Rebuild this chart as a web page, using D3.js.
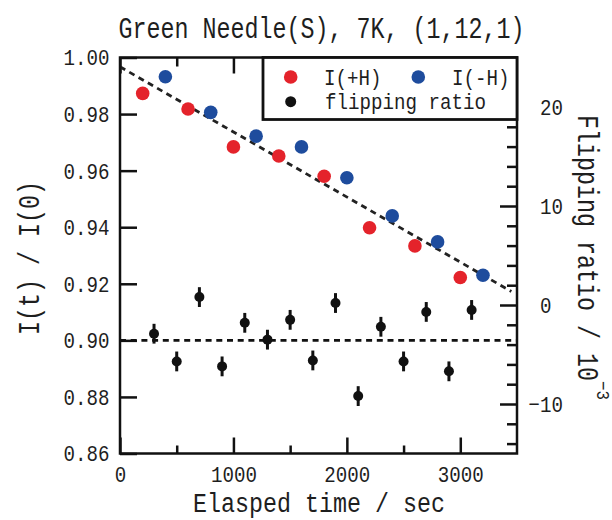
<!DOCTYPE html>
<html>
<head>
<meta charset="utf-8">
<script src="https://cdn.jsdelivr.net/npm/d3@7"></script>
<style>
  html, body { margin: 0; padding: 0; background: #fff; }
  svg { display: block; }
  text { font-family: "Liberation Mono", "DejaVu Sans Mono", monospace; fill: #1e1e1e; }
</style>
</head>
<body>
<svg id="chart" width="612" height="520"></svg>
<script>
// Intensity I(t)/I(0) for +H and -H fields
const timePlus = [200, 600, 1000, 1400, 1800, 2200, 2600, 3000];
const intensityPlus = [0.9873, 0.9818, 0.9684, 0.9652, 0.9580, 0.9398, 0.9334, 0.9222];
const timeMinus = [400, 800, 1200, 1600, 2000, 2400, 2800, 3200];
const intensityMinus = [0.9932, 0.9806, 0.9722, 0.9684, 0.9575, 0.9440, 0.9348, 0.9230];

// Flipping ratio (x 10^-3) with error bars
const timeFlip = [300, 500, 700, 900, 1100, 1300, 1500, 1700, 1900, 2100, 2300, 2500, 2700, 2900, 3100];
const flipRatio = [-2.9, -5.7, 0.8, -6.2, -1.8, -3.5, -1.5, -5.6, 0.2, -9.2, -2.2, -5.7, -0.7, -6.7, -0.5];
const flipError = [1.0, 1.0, 1.0, 1.0, 1.0, 1.0, 1.0, 1.0, 1.0, 1.0, 1.0, 1.0, 1.0, 1.0, 1.0];

// Linear decay guide and reference level
const fitTime = [0, 3450];
const fitValue = [0.9967, 0.9173];
const refTime = [0, 3500];
const refValue = [0.90, 0.90];

// Axis ticks
const xMajorTicks = [0, 1000, 2000, 3000];
const xMinorTicks = [500, 1500, 2500];
const yLeftTicks = [0.86, 0.88, 0.90, 0.92, 0.94, 0.96, 0.98, 1.00];
const yRightMajorTicks = [-10, 0, 10, 20];
const yRightMinorTicks = [-14, -12, -8, -6, -4, -2, 2, 4, 6, 8, 12, 14, 16, 18, 22, 24];

const titleText = "Green Needle(S), 7K, (1,12,1)";
const xTitle = "Elasped time / sec";
const yLeftTitle = "I(t) / I(0)";
const yRightTitle = "Flipping ratio / 10";
const yRightExp = "\u22123";
const legendLabels = ["I(+H)", "I(-H)", "flipping ratio"];

const RED = "#e4232b", BLUE = "#1e4c9d", BLACK = "#111";
const MONO = 0.6;                    // advance of the monospace face, in em
const BIG = 29.4, BIG_ADV = 14;      // large text: font size, character cell
const XT = 27.5;                     // x-axis title, a touch smaller to clear the tick labels
const SMALL = 22.7, SMALL_ADV = 11.5;
const SUP = 19, SUP_ADV = 9.5;

const L = 120, R = 517, T = 57.5, B = 453.5;

const x = d3.scaleLinear().domain([0, 3500]).range([L, R]);
const yL = d3.scaleLinear().domain([0.86, 1.00]).range([B, T]);
const yR = d3.scaleLinear().domain([-15, 25]).range([B, T]);

const svg = d3.select("#chart");
svg.append("rect").attr("width", 612).attr("height", 520).attr("fill", "#fff");

// narrow monospace text: the face is squeezed horizontally to the given cell width
function label(parent, px, py, str, size, adv, anchor, rot) {
  const sx = adv / (MONO * size);
  return parent.append("text")
    .attr("transform", `translate(${px},${py})${rot ? ` rotate(${rot})` : ""} scale(${sx},1)`)
    .attr("font-size", size)
    .attr("text-anchor", anchor || "start")
    .text(str);
}

function styleAxis(g) {
  g.select(".domain").remove();
  g.selectAll(".tick line").attr("stroke", BLACK).attr("stroke-width", 2.5);
  g.selectAll(".tick text").remove();
}

// bottom axis
const gB = svg.append("g").attr("transform", `translate(0,${B})`)
  .call(d3.axisBottom(x).tickValues(xMajorTicks).tickSize(-16));
styleAxis(gB);
gB.selectAll(".tick").each(function (d) {
  label(d3.select(this), 0, 28.8, d3.format("d")(d), SMALL, SMALL_ADV, "middle");
});
styleAxis(svg.append("g").attr("transform", `translate(0,${B})`)
  .call(d3.axisBottom(x).tickValues(xMinorTicks).tickSize(-8)));

// top axis (ticks only)
styleAxis(svg.append("g").attr("transform", `translate(0,${T})`)
  .call(d3.axisTop(x).tickValues(xMajorTicks).tickSize(-16)));
styleAxis(svg.append("g").attr("transform", `translate(0,${T})`)
  .call(d3.axisTop(x).tickValues(xMinorTicks).tickSize(-9)));

// left axis
const gL = svg.append("g").attr("transform", `translate(${L},0)`)
  .call(d3.axisLeft(yL).tickValues(yLeftTicks).tickSize(-17));
styleAxis(gL);
gL.selectAll(".tick").each(function (d) {
  label(d3.select(this), -10.5, 0.33 * SMALL, d3.format(".2f")(d), SMALL, SMALL_ADV, "end");
});

// right axis
const gR = svg.append("g").attr("transform", `translate(${R},0)`)
  .call(d3.axisRight(yR).tickValues(yRightMajorTicks).tickSize(-17));
styleAxis(gR);
gR.selectAll(".tick").each(function (d) {
  const s = d < 0 ? "\u2212" + Math.abs(d) : String(d);
  label(d3.select(this), d < 0 ? 23 - SMALL_ADV : 23, 0.33 * SMALL, s, SMALL, SMALL_ADV, "start");
});
styleAxis(svg.append("g").attr("transform", `translate(${R},0)`)
  .call(d3.axisRight(yR).tickValues(yRightMinorTicks).tickSize(-10)));

// dashed guides
const line = d3.line().x(d => x(d[0])).y(d => yL(d[1]));
svg.append("path").datum(refTime.map((t, i) => [t, refValue[i]]))
  .attr("d", line).attr("fill", "none").attr("stroke", BLACK)
  .attr("stroke-width", 2.8).attr("stroke-dasharray", "6,4.7");
svg.append("path").datum(fitTime.map((t, i) => [t, fitValue[i]]))
  .attr("d", line).attr("fill", "none").attr("stroke", "#222")
  .attr("stroke-width", 2.8).attr("stroke-dasharray", "6,4.7");

// flipping ratio with error bars
const flip = timeFlip.map((t, i) => ({ t, r: flipRatio[i], e: flipError[i] }));
svg.append("g").selectAll("line").data(flip).join("line")
  .attr("x1", d => x(d.t)).attr("x2", d => x(d.t))
  .attr("y1", d => yR(d.r - d.e)).attr("y2", d => yR(d.r + d.e))
  .attr("stroke", BLACK).attr("stroke-width", 3);
svg.append("g").selectAll("circle").data(flip).join("circle")
  .attr("cx", d => x(d.t)).attr("cy", d => yR(d.r)).attr("r", 5).attr("fill", BLACK);

// intensities
svg.append("g").selectAll("circle").data(timePlus.map((t, i) => [t, intensityPlus[i]])).join("circle")
  .attr("cx", d => x(d[0])).attr("cy", d => yL(d[1])).attr("r", 6.8).attr("fill", RED);
svg.append("g").selectAll("circle").data(timeMinus.map((t, i) => [t, intensityMinus[i]])).join("circle")
  .attr("cx", d => x(d[0])).attr("cy", d => yL(d[1])).attr("r", 6.8).attr("fill", BLUE);

// frame
svg.append("rect").attr("x", L).attr("y", T).attr("width", R - L).attr("height", B - T)
  .attr("fill", "none").attr("stroke", BLACK).attr("stroke-width", 2.5);

// legend
const lg = svg.append("g");
lg.append("rect").attr("x", 263).attr("y", T).attr("width", R - 263).attr("height", 62)
  .attr("fill", "#fff").attr("stroke", BLACK).attr("stroke-width", 2.8);
const legendItems = [
  { c: RED, cx: 290.7, cy: 77, tx: 324, ty: 84.5, label: legendLabels[0], r: 6.8 },
  { c: BLUE, cx: 418.3, cy: 77, tx: 452, ty: 84.5, label: legendLabels[1], r: 6.8 },
  { c: BLACK, cx: 290.7, cy: 101.7, tx: 325, ty: 108.5, label: legendLabels[2], r: 5.5 }
];
lg.selectAll("circle").data(legendItems).join("circle")
  .attr("cx", d => d.cx).attr("cy", d => d.cy).attr("r", d => d.r).attr("fill", d => d.c);
legendItems.forEach(d => label(lg, d.tx, d.ty, d.label, SMALL, SMALL_ADV, "start"));

// titles
label(svg, 321.5, 38, titleText, BIG, BIG_ADV, "middle");
label(svg, 319, 512, xTitle, XT, BIG_ADV, "middle");
label(svg, 39, 258, yLeftTitle, BIG, BIG_ADV, "middle", -90);
label(svg, 578, 115, yRightTitle, BIG, BIG_ADV, "start", 90);
label(svg, 578 + 19, 115 + yRightTitle.length * BIG_ADV, yRightExp, SUP, SUP_ADV, "start", 90);
</script>
</body>
</html>
